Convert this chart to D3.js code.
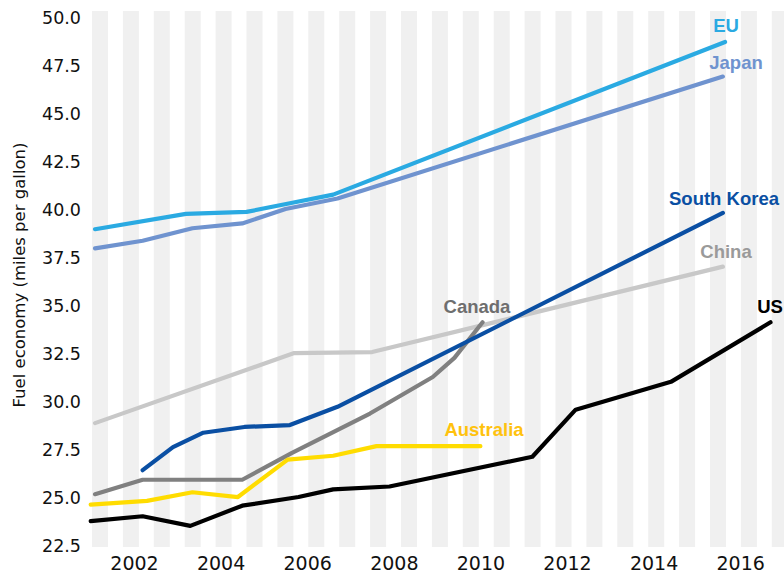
<!DOCTYPE html>
<html>
<head>
<meta charset="utf-8">
<script src="https://cdn.jsdelivr.net/npm/d3@7"></script>
<style>
  body { margin: 0; background: #fff; }
  svg { display: block; }
</style>
</head>
<body>
<svg class="chart"></svg>
<script>
// values (year, mpg)
const usYears = [2001, 2002.2, 2003.3, 2004.5, 2005.8, 2006.6, 2007.9, 2011.2, 2012.2, 2014.4, 2016.7];
const usValues = [23.8, 24.05, 23.55, 24.6, 25.05, 25.45, 25.6, 27.15, 29.6, 31.05, 34.15];

const australiaYears = [2001, 2002.3, 2003.35, 2004.4, 2005.55, 2006.6, 2007.6, 2010];
const australiaValues = [24.65, 24.85, 25.3, 25.05, 27.0, 27.2, 27.7, 27.7];

const canadaYears = [2001.1, 2002.2, 2004.5, 2005.65, 2007.45, 2008.9, 2009.4, 2010.05];
const canadaValues = [25.2, 25.95, 25.95, 27.35, 29.4, 31.3, 32.3, 34.15];

const koreaYears = [2002.2, 2002.9, 2003.6, 2004.55, 2005.6, 2006.7, 2015.6];
const koreaValues = [26.45, 27.65, 28.4, 28.7, 28.8, 29.75, 39.85];

const chinaYears = [2001.1, 2005.7, 2007.5, 2015.6];
const chinaValues = [28.9, 32.55, 32.6, 37.05];

const euYears = [2001.1, 2003.2, 2004.6, 2005.6, 2006.6, 2015.65];
const euValues = [39.0, 39.8, 39.9, 40.35, 40.8, 48.75];

const japanYears = [2001.1, 2002.2, 2003.35, 2004.5, 2005.5, 2006.7, 2015.6];
const japanValues = [38.0, 38.4, 39.05, 39.3, 40.05, 40.6, 46.95];

const yTicks = [22.5, 25, 27.5, 30, 32.5, 35, 37.5, 40, 42.5, 45, 47.5, 50];
const xTicks = [2002, 2004, 2006, 2008, 2010, 2012, 2014, 2016];

const series = [
  {name: 'China', years: chinaYears, values: chinaValues, color: '#c8c8c8', label: '#9a9a9a', lx: 726, ly: 258},
  {name: 'Canada', years: canadaYears, values: canadaValues, color: '#808080', label: '#6e6e6e', lx: 477, ly: 313},
  {name: 'Australia', years: australiaYears, values: australiaValues, color: '#ffdc00', label: '#ffc20e', lx: 484, ly: 436},
  {name: 'US', years: usYears, values: usValues, color: '#000000', label: '#000000', lx: 770, ly: 313},
  {name: 'Japan', years: japanYears, values: japanValues, color: '#6f93cf', label: '#6f93cf', lx: 736, ly: 69},
  {name: 'EU', years: euYears, values: euValues, color: '#2aaae2', label: '#2aaae2', lx: 726, ly: 32},
  {name: 'South Korea', years: koreaYears, values: koreaValues, color: '#0a4fa3', label: '#0a4fa3', lx: 724, ly: 205}
];

const width = 784;
const height = 578;

const svg = d3.select('.chart')
  .attr('width', width)
  .attr('height', height);

const x = d3.scaleLinear()
  .domain([2001, 2017])
  .range([90.7, 783.5]);

const y = d3.scaleLinear()
  .domain([22.5, 50])
  .range([546, 18]);

// background stripes
const plotTop = 11, plotBottom = 547;
svg.append('g')
  .selectAll('rect')
  .data(d3.range(92, width, 30.9))
  .enter()
  .append('rect')
  .attr('x', function(d) { return d; })
  .attr('y', plotTop)
  .attr('width', 16)
  .attr('height', plotBottom - plotTop)
  .attr('fill', '#f0f0f0');

// y axis
const yAxis = d3.axisLeft(y)
  .tickValues(yTicks)
  .tickFormat(d3.format('.1f'))
  .tickSize(0)
  .tickPadding(0);

svg.append('g')
  .attr('transform', 'translate(81,0)')
  .call(yAxis)
  .call(function(g) { g.select('.domain').remove(); })
  .selectAll('text')
  .attr('font-family', 'DejaVu Sans')
  .attr('font-size', 17.5)
  .attr('fill', '#111');

// x axis
const xAxis = d3.axisBottom(x)
  .tickValues(xTicks)
  .tickFormat(d3.format('d'))
  .tickSize(0)
  .tickPadding(0);

svg.append('g')
  .attr('transform', 'translate(0,556)')
  .call(xAxis)
  .call(function(g) { g.select('.domain').remove(); })
  .selectAll('text')
  .attr('font-family', 'DejaVu Sans')
  .attr('font-size', 19)
  .attr('fill', '#111');

svg.append('text')
  .attr('transform', 'translate(25,275) rotate(-90)')
  .attr('text-anchor', 'middle')
  .attr('font-family', 'DejaVu Sans')
  .attr('font-size', 16.5)
  .attr('fill', '#111')
  .text('Fuel economy (miles per gallon)');

// lines
const line = d3.line()
  .x(function(d) { return x(d[0]); })
  .y(function(d) { return y(d[1]); });

svg.append('g')
  .selectAll('path')
  .data(series)
  .enter()
  .append('path')
  .attr('d', function(d) { return line(d3.zip(d.years, d.values)); })
  .attr('fill', 'none')
  .attr('stroke', function(d) { return d.color; })
  .attr('stroke-width', 4.2)
  .attr('stroke-linecap', 'round')
  .attr('stroke-linejoin', 'round');

// labels
svg.append('g')
  .selectAll('text')
  .data(series)
  .enter()
  .append('text')
  .attr('x', function(d) { return d.lx; })
  .attr('y', function(d) { return d.ly; })
  .attr('text-anchor', 'middle')
  .attr('font-family', 'Liberation Sans')
  .attr('font-weight', 'bold')
  .attr('font-size', 18.5)
  .attr('fill', function(d) { return d.label; })
  .text(function(d) { return d.name; });
</script>
</body>
</html>
